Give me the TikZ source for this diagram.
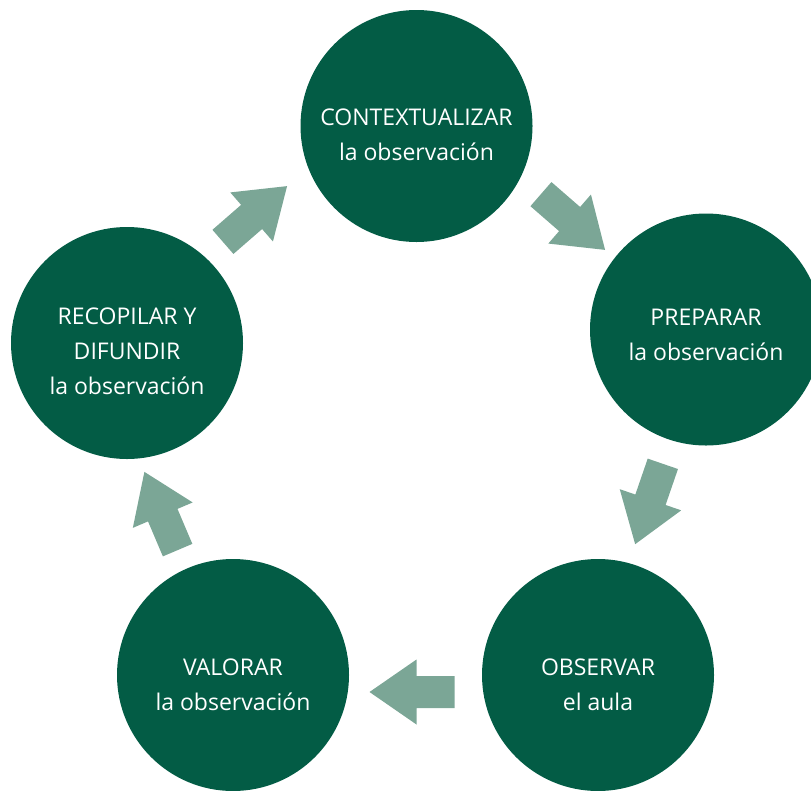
\documentclass[tikz,border=0pt]{standalone}
\usepackage{fontspec}
\setmainfont{Open Sans}
\definecolor{stepgreen}{HTML}{035C45}
\definecolor{arrowgreen}{HTML}{7BA696}

\begin{document}
\begin{tikzpicture}
[x=1pt,y=1pt
,stage/.style={circle,fill=stepgreen,minimum size=232pt,inner sep=0pt}
,lbl/.style={text=white,align=center,font=\fontsize{23}{35}\selectfont}
,blockarrow/.pic={\fill[arrowgreen] (-42.5,-16) -- (-4.5,-16) -- (-4.5,-32.5) -- (42.5,0)
   -- (-4.5,32.5) -- (-4.5,16) -- (-42.5,16) -- cycle;}
]
\useasboundingbox (0,0) rectangle (811,-790);

\node[stage] (s1) at (416.5,-126) {};
\node[stage] (s2) at (706,-329.5) {};
\node[stage] (s3) at (598,-675) {};
\node[stage] (s4) at (233,-675) {};
\node[stage] (s5) at (127,-343) {};

\node[lbl] (t1) at ([yshift=-9pt]s1.center) {CONTEXTUALIZAR\\la observación};
\node[lbl] (t2) at ([yshift=-5pt]s2.center) {PREPARAR\\la observación};
\node[lbl] (t3) at ([yshift=-10pt]s3.center) {OBSERVAR\\el aula};
\node[lbl] (t4) at ([yshift=-10pt]s4.center) {VALORAR\\la observación};
\node[lbl] (t5) at ([yshift=-8pt]s5.center) {RECOPILAR Y\\DIFUNDIR\\la observación};

% arrows between the stages
\pic[rotate=-41] at (573,-222) {blockarrow};
\pic[rotate=-109] at (649,-504) {blockarrow};
\pic[rotate=180] at (412,-692) {blockarrow};
\pic[rotate=113] at (161,-511) {blockarrow};
\pic[rotate=41] at (255,-214) {blockarrow};
\end{tikzpicture}
\end{document}
